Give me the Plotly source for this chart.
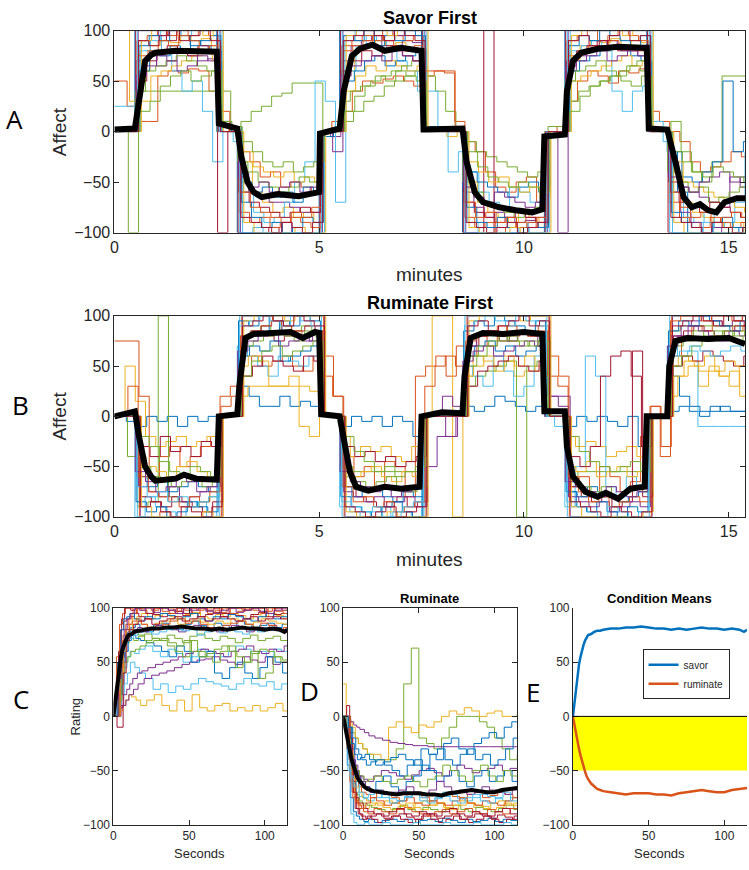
import numpy as np
import plotly.graph_objects as go

# MATLAB default colour order
COLORS = ["#0072BD", "#D95319", "#EDB120", "#7E2F8E", "#77AC30", "#4DBEEE", "#A2142F"]

# ---------------- Panel A: Savor First (ratings every 0.25 min) ----------------
# block order: N0(2) S(8) N(2) R(8) N(2) S(8) N(4) R(8) N(2) S(8) N(2) R(8) end(1)
A1 = [0,0, 100,100,100,100,100,100,100,100, 0,0, -100,-100,-100,-100,-100,-100,-100,-100, 0,0, 100,100,100,100,100,100,100,100, 0,0,0,0, -100,-100,-100,-100,-100,-100,-100,-100, -5,0, 100,100,100,100,100,100,100,100, 0,0, -20,-60,-100,-100,-100,-100,-95,-100, -100]
A2 = [50,25, 10,10,55,60,58,62,60,40, 10,0, -20,-30,-45,-40,-55,-50,-55,-60, 0,10, 20,40,50,48,52,55,50,45, 55,60,58,10, -10,-20,-40,-55,-60,-50,-45,-70, -5,5, 30,50,60,55,48,60,58,62, 20,10, 0,-10,-30,-40,-35,-30,-20,-25, -20]
A3 = [100,30, 60,85,90,88,95,90,92,85, 5,0, -30,-60,-70,-80,-75,-85,-80,-90, 0,0, 60,80,85,90,85,88,80,82, 0,0,-5,0, -50,-70,-80,-85,-90,-80,-85,-90, 0,0, 70,85,90,88,92,85,90,88, 0,0, -40,-70,-80,-85,-90,-95,-90,-100, -100]
A4 = [0,0, 70,75,65,70,80,75,70,72, 0,0, -40,-60,-65,-70,-70,-75,-80,-80, 0,-5, 70,85,90,95,80,85,90,88, 0,0,0,0, -60,-75,-85,-80,-85,-90,-88,-85, 0,0, 60,75,80,85,90,85,80,75, 0,0, -30,-55,-60,-65,-70,-75,-45,-55, -60]
A5 = [0,-100, 40,40,40,40,40,40,40,40, 40,0, 10,20,25,35,38,48,48,48, 0,0, 10,20,30,35,45,50,55,60, 55,40,20,0, -10,-20,-25,-30,-35,-40,-45,-40, 5,5, 30,40,45,50,55,60,65,60, 0,0, 10,-20,-40,-50,-30,55,55,55, 50]
A6 = [25,25, 90,95,80,60,40,50,20,-30, 0,-10, -60,-80,-90,-85,-70,-50,-30,50, 30,-70, 60,85,95,90,80,70,60,40, 40,0,-40,-20, -40,-60,-70,-75,-55,-60,-70,-55, 0,0, 80,85,90,80,40,20,40,45, 10,-10, -60,-85,-90,-80,-95,-90,-70,-20, -20]
A7 = [0,0, 100,100,100,90,100,100,100,100, -100,0, -100,-100,-100,-95,-100,-100,-100,-100, 0,0, 100,100,100,100,100,100,100,100, 0,0,0,0, -100,-100,100,-100,-100,-100,-100,-100, 0,0, 100,100,100,100,100,100,100,100, 0,0, -100,-100,-100,-100,-100,-100,-100,-100, -100]
A8 = [0,0, 60,80,75,85,80,90,85,80, 0,5, -50,-60,-55,-65,-60,-70,-55,-60, 0,0, 50,60,70,75,65,70,75,80, 5,0,0,0, -40,-50,-55,-60,-65,-55,-50,-60, -5,0, 60,70,75,80,85,80,75,70, 0,0, -20,-45,-50,-40,-30,50,-20,-10, 0]
A9 = [0,0, 90,95,100,95,100,95,100,95, 5,0, -80,-90,-85,-95,-90,-85,-90,-95, 0,0, 85,90,95,90,100,95,90,95, 0,0,0,0, -85,-95,-90,-100,-95,-90,-85,-95, 0,0, 90,95,100,90,95,100,95,90, 0,0, -70,-85,-90,-95,-85,-90,-95,-90, -90]
A10 = [0,0, 30,55,60,65,70,75,80,70, 0,0, -20,-35,-40,-45,-40,-50,-45,-50, 0,0, 40,55,65,60,70,65,60,65, 0,0,0,0, -30,-40,-50,-45,-55,-60,-55,-65, 0,0, 50,55,60,65,70,75,65,70, 0,0, -30,-50,-55,-60,-65,-70,-75,-80, -85]
A11 = [0,0, 100,100,95,100,100,100,100,100, 0,0, -100,-100,-100,-100,-90,-100,-100,-100, 0,-20, 100,100,100,100,100,95,100,100, 0,0,0,0, -100,-100,-100,-100,-100,-100,-100,-100, 0,-100, 100,100,100,100,100,100,100,100, 0,0, -60,-80,-90,-100,-95,-100,-100,-100, -100]
A12 = [0,0, 40,60,65,70,75,70,65,60, 0,0, -30,-40,-50,-55,-60,-55,-45,-50, 0,0, 30,40,45,50,55,60,65,70, 0,0,0,0, -50,-60,-70,-75,-80,-85,-80,-75, 0,0, 50,60,65,70,60,55,65,70, 0,0, -40,-50,-60,-55,-70,-65,-60,-55, -50]
A13 = [0,0, 80,90,100,100,95,100,100,100, 0,0, -100,-95,-100,-100,-100,-100,-100,-100, 0,0, 90,100,100,100,100,100,100,100, 0,0,0,0, -90,-100,-100,-100,-100,-95,-100,-100, 0,0, 100,100,100,100,100,100,100,100, 0,0, -100,-100,-100,-90,-100,-100,-100,-100, -100]
A14 = [0,0, 50,70,80,85,80,75,85,80, 0,0, -60,-70,-75,-80,-85,-80,-75,-80, 0,0, 60,70,80,75,85,80,75,70, 0,0,0,0, -70,-80,-85,-90,-85,-80,-85,-90, 0,0, 70,80,85,90,85,80,85,80, 0,0, -50,-70,-75,-80,-70,-75,-80,-85, -85]
A15 = [0,0, 85,95,90,100,95,85,90,95, 10,0, -70,-85,-95,-90,-100,-95,-85,-90, -5,0, 95,90,100,85,95,90,100,95, 0,5,0,0, -75,-90,-95,-85,-95,-100,-90,-95, 0,0, 85,95,90,100,95,90,85,95, 0,0, -80,-90,-95,-100,-90,-85,-95,-100, -100]
A16 = [0,0, 75,80,90,85,95,90,80,85, 20,0, -60,-75,-80,-85,-90,-80,-85,-75, 0,0, 80,85,90,95,90,85,80,85, 60,60,60,0, -70,-85,-80,-90,-85,-95,-90,-85, 0,0, 75,80,85,80,90,85,80,85, 0,0, -60,-75,-85,-80,-90,-85,-80,-85, -85]
A17 = [0,0, 90,100,100,100,100,100,95,100, 0,0, -90,-100,-100,-100,-100,-95,-100,-100, 0,0, 95,100,100,100,95,100,100,100, 0,0,0,0, -95,-100,-100,-100,-95,-100,-100,-100, 0,0, 95,100,100,100,100,95,100,100, 0,0, -90,-100,-100,-100,-100,-100,-100,-95, -95]
A18 = [0,0, 55,65,75,70,60,65,75,70, 0,0, -45,-55,-50,-60,-55,-50,-60,-55, 0,0, 55,65,70,75,70,80,75,70, 0,0,0,0, -55,-65,-70,-60,-65,-70,-75,-70, 0,0, 65,70,75,80,70,75,80,75, 0,0, -45,-55,-60,-50,-45,-40,-50,-45, -45]
A19 = [0,0, 20,30,45,55,60,50,55,60, 10,5, -10,-20,-30,-35,-30,-40,-35,-30, 0,0, 20,35,45,55,50,60,55,50, 0,0,0,0, -20,-35,-45,-50,-55,-50,-55,-60, 0,0, 20,35,45,50,55,50,45,55, 0,0, -20,-30,-40,-45,-35,-40,-45,-50, -50]
A20 = [0,0, 100,100,100,100,100,100,100,100, 0,0, -100,-100,-100,-100,-100,-100,-100,-100, 0,0, 100,100,100,100,100,100,100,100, 0,0,0,0, -100,-100,-100,-100,-100,-100,-100,-100, 0,0, 100,100,100,100,100,100,100,100, 0,0, -100,-100,-100,-100,-100,-100,-100,-100, -100]
A21 = [0,0, 90,85,95,100,90,95,100,90, 0,0, -85,-90,-95,-100,-90,-95,-100,-90, 0,0, 90,95,100,95,90,100,95,90, 0,0,0,0, -90,-95,-100,-95,-90,-100,-95,-90, 0,0, 90,95,85,90,95,100,90,95, 0,0, -85,-90,-95,-100,-90,-95,-100,-95, -95]
SAVOR_FIRST = [A1, A2, A3, A4, A5, A6, A7, A8, A9, A10, A11, A12, A13, A14, A15, A16, A17, A18, A19, A20, A21]
# response lag of each rater (minutes) - raters update their slider at their own moments
LAG_A = [0.00, 0.06, 0.12, 0.03, 0.09, 0.15, 0.02, 0.11, 0.05, 0.14, 0.08, 0.01, 0.13, 0.04, 0.10, 0.07, 0.16, 0.03, 0.12, 0.06, 0.09]

MEAN_A_T = [0, 0.5, 0.6, 0.75, 0.9, 1.0, 1.5, 2.0, 2.5, 2.55, 2.8, 3.0, 3.1, 3.25, 3.4, 3.6, 4.0, 4.5, 5.0, 5.02,
            5.5, 5.6, 5.8, 6.0, 6.3, 6.6, 7.0, 7.5, 7.55, 8.0, 8.5, 8.6, 8.8, 9.0, 9.4, 9.8, 10.2, 10.45, 10.5,
            11.0, 11.05, 11.2, 11.4, 11.8, 12.3, 12.9, 13.0, 13.05, 13.5, 13.7, 13.9, 14.1, 14.3, 14.5, 14.7, 14.9, 15.2, 15.4]
MEAN_A_V = [2, 3, 30, 70, 76, 78, 80, 80, 79, 8, 5, 3, -25, -50, -60, -65, -62, -64, -60, -2,
            3, 40, 75, 82, 86, 80, 83, 80, 2, 3, 3, -30, -60, -70, -75, -78, -80, -77, -5,
            -3, 40, 70, 78, 82, 84, 83, 83, 3, 2, -30, -65, -75, -72, -78, -80, -70, -66, -66]

# ---------------- Panel B: Ruminate First ----------------
# block order: N0(2) R(8) N(2) S(8) N(2) R(8) N(4) S(8) N(2) R(8) N(2) S(8) end(1)
B1 = [0,-5, -10,0,-5,0,-10,0,-5,0, 0,0, 30,20,10,10,20,10,15,10, 0,0, -10,0,-5,0,-10,0,-5,-20, 0,0,0,0, 10,5,10,20,15,10,5,10, 0,0, -10,0,-5,0,-5,-10,0,-30, 0,0, 5,10,5,0,5,10,5,5, 5]
B2 = [75,75, 20,-60,-40,-30,-50,-40,-30,-20, 10,20, 40,60,50,55,60,50,45,60, 60,20, -40,-60,-50,-70,-45,-50,-80,40, 50,60,40,70, 60,80,70,90,75,85,80,90, 60,40, -70,-60,-80,-50,-60,-75,-65,-20, 10,-30, 60,80,90,85,95,90,85,90, 90]
B3 = [0,50, 15,-20,-30,-25,-20,-30,-25,-20, 0,0, 20,30,30,30,30,40,-10,-20, 0,0, -20,-40,-30,-35,-30,-40,-45,-30, 0,100,100,-100, 40,60,55,50,60,40,45,50, 0,0, -20,-30,-25,-30,-40,-35,-30,-40, 0,0, 20,40,50,30,45,40,30,50, 50]
B4 = [0,0, -100,-100,-100,-100,-100,-100,-100,-100, 0,0, 100,100,100,100,100,100,100,100, 0,0, -100,-100,-100,-100,-100,-100,-100,-100, -50,-20,-20,0, 100,100,100,100,100,100,100,100, 20,20, -100,-100,-100,-100,-100,-100,-100,-100, 0,0, 100,100,100,100,100,100,100,100, 100]
B5 = [0,-40, -90,-85,100,-80,-85,-90,-85,-80, 0,0, 80,85,90,85,90,85,90,85, 0,0, -50,-55,-55,-55,-55,-55,-55,-55, 0,0,0,0, 30,40,45,50,55,-100,50,55, 0,0, -60,-55,-55,-55,-55,-55,-55,-55, 0,0, 85,90,90,90,90,90,90,90, 90]
B6 = [0,0, -100,-80,-90,-95,-100,-90,-85,-100, 0,0, 70,60,50,40,60,55,50,60, 0,0, -90,-95,-100,-95,-90,-100,-95,-100, 0,0,0,0, 50,40,30,60,45,20,30,60, 0,-10, -90,-50,60,40,-70,-80,-60,-70, 0,0, 70,60,65,-10,-10,-10,-10,-10, -10]
B7 = [0,0, -80,-85,-90,-80,-85,-90,-95,-85, 0,0, 80,85,80,75,80,85,90,85, 0,0, -70,-80,-85,-90,-85,-80,-90,-85, 0,0,0,0, 70,80,85,75,80,85,80,75, 0,0, -70,-80,-85,-80,-90,-85,65,-80, 0,0, 80,85,90,85,80,85,90,85, 85]
B8 = [0,0, -60,-70,-65,-75,-70,-65,-70,-75, 0,0, 60,70,65,75,55,60,65,70, 0,0, -70,-80,-75,-70,-80,-85,-75,-80, 0,0,0,0, 60,70,75,65,70,60,65,70, 0,0, -75,-80,-70,-75,-80,-85,-80,-75, 0,0, 40,20,10,5,10,5,5,5, 5]
B9 = [0,0, -100,-100,-95,-100,-100,-100,-100,-100, 0,0, 100,100,100,95,100,100,100,100, 0,0, -100,-100,-100,-100,-100,-100,-100,-100, 0,0,0,0, 100,100,100,100,100,100,100,100, 0,0, -100,-100,-100,-100,-100,-100,-100,-100, 0,0, 100,100,100,100,100,100,100,100, 100]
B10 = [0,0, -40,-50,-55,-60,-50,-45,-55,-60, 0,0, 50,60,55,30,30,30,30,25, 0,0, -50,-60,-55,-50,-60,-65,-55,-60, 0,0,0,0, 40,50,60,45,55,50,60,45, 0,0, -50,-55,-45,-60,-55,-50,-60,-55, 0,0, 50,60,55,45,50,40,45,20, 20]
B11 = [0,0, -70,-75,-80,-70,-85,-80,-75,-70, 0,0, 80,85,90,95,85,80,75,85, 0,0, -75,-80,-85,-80,-90,-85,-80,-90, 0,0,-20,0, 70,80,85,80,75,85,80,70, 20,10, -80,-85,-90,-85,-95,-90,-85,-90, 0,0, 80,90,95,100,95,90,95,100, 100]
B12 = [0,0, -50,-60,-65,-70,-65,-60,-70,-65, 0,0, 70,75,80,85,80,75,85,80, 0,0, -60,-65,-70,-65,-60,-70,-75,-70, 0,0,0,0, 60,70,75,80,75,70,75,80, 0,0, -65,-70,-75,-70,-80,-75,-70,-75, 0,0, 70,75,85,80,85,80,85,80, 80]
B13 = [0,0, -100,-100,-100,-100,-100,-100,-100,-100, 0,0, 100,100,100,100,100,100,100,100, 0,0, -100,-100,-100,-100,-100,-100,-100,-100, 0,0,0,0, 100,100,100,100,100,100,100,100, 0,0, -100,-100,-100,-100,-100,-100,-100,-100, 0,0, 100,100,100,100,100,100,100,100, 100]
B14 = [0,0, -30,-40,-20,-35,-30,-40,-25,-30, 0,0, 40,50,60,55,50,45,60,55, 0,0, -30,-40,-35,-45,-40,-50,-45,-40, 0,0,0,0, 30,45,50,55,60,50,45,55, 0,0, -40,-50,-30,40,60,65,40,-30, 0,0, 50,60,55,65,60,55,50,60, 60]
B15 = [0,0, -85,-95,-90,-100,-95,-85,-90,-95, 0,0, 95,90,100,85,95,90,100,95, 0,0, -80,-90,-95,-100,-90,-85,-95,-100, 0,5,0,0, 85,95,90,100,95,90,85,95, 0,0, -75,-90,-95,-85,-95,-100,-90,-95, 0,0, 85,95,90,100,95,90,85,95, 95]
B16 = [0,30, -60,-75,-80,-85,-90,-80,-85,-75, 20,30, 80,85,90,95,90,85,80,85, 40,20, -70,-85,-80,-90,-85,-95,-90,-85, 30,50,60,50, 75,80,85,80,90,85,80,85, 40,30, -60,-75,-85,-80,-90,-85,-80,-85, 10,-40, 95,100,100,95,100,100,95,100, 100]
B17 = [0,0, -90,-100,-100,-100,-100,-100,-95,-100, 0,0, 95,100,100,100,95,100,100,100, 0,0, -95,-100,-100,-100,-95,-100,-100,-100, 0,0,0,0, 95,100,100,100,100,95,100,100, 0,0, -90,-100,-100,-100,-100,-100,-100,-95, 0,0, 40,55,50,60,45,55,50,45, 45]
B18 = [0,0, -55,-65,-75,-70,-60,-65,-75,-70, 0,0, 65,75,80,85,70,75,80,75, 0,0, -55,-65,-70,-75,-70,-80,-75,-70, 0,0,20,10, 55,65,70,60,65,70,75,70, 0,0, -65,-70,-75,-80,-70,-75,-80,-75, 0,0, 70,80,90,85,80,75,85,80, 80]
B19 = [0,0, -20,-30,-45,-55,-60,-50,-55,-60, 0,0, 40,55,65,70,60,65,70,75, 0,0, -20,-35,-45,-55,-50,-60,-55,-50, 0,0,0,0, 50,60,70,75,80,75,70,75, 0,0, -20,-35,-45,-50,-55,-50,-45,-55, 0,0, 50,60,70,75,80,85,80,75, 75]
B20 = [0,0, -70,-80,-75,-85,-80,-90,-85,-80, 0,0, 90,95,100,95,90,100,95,90, 0,0, -85,-90,-95,-90,-100,-95,-90,-85, 0,0,0,0, 90,95,100,95,90,100,95,90, 0,0, -85,-90,-95,-100,-90,-95,-100,-95, 0,0, 60,65,70,65,60,65,70,65, 65]
B21 = [0,0, -90,-85,-95,-100,-90,-95,-100,-90, 0,0, 90,95,100,95,90,100,95,90, 0,0, -90,-95,-100,-95,-90,-100,-95,-90, 0,0,0,0, 90,95,85,90,95,100,90,95, 0,0, -85,-90,-95,-100,-90,-95,-100,-95, 0,0, 90,95,100,95,90,100,95,90, 90]
RUMINATE_FIRST = [B1, B2, B3, B4, B5, B6, B7, B8, B9, B10, B11, B12, B13, B14, B15, B16, B17, B18, B19, B20, B21]
LAG_B = [0.04, 0.10, 0.01, 0.13, 0.07, 0.00, 0.15, 0.05, 0.11, 0.02, 0.09, 0.14, 0.06, 0.12, 0.03, 0.08, 0.16, 0.01, 0.10, 0.05, 0.13]

MEAN_B_T = [0, 0.5, 0.6, 0.75, 0.9, 1.0, 1.5, 1.7, 2.0, 2.5, 2.55, 3.0, 3.05, 3.2, 3.4, 3.8, 4.3, 4.6, 4.9, 5.0, 5.05,
            5.5, 5.6, 5.75, 5.9, 6.2, 6.6, 7.0, 7.45, 7.5, 8.0, 8.5, 8.55, 8.7, 9.0, 9.5, 10.0, 10.45, 10.5,
            11.0, 11.05, 11.2, 11.5, 11.8, 12.0, 12.3, 12.6, 12.95, 13.0, 13.5, 13.55, 13.7, 14.0, 14.5, 15.0, 15.4]
MEAN_B_V = [0, 5, -20, -50, -60, -64, -62, -58, -62, -63, 0, 2, 30, 78, 82, 83, 84, 78, 84, 83, 2,
            0, -20, -55, -70, -74, -70, -72, -70, 0, 4, 3, 40, 78, 83, 82, 84, 82, 5,
            5, -30, -60, -75, -80, -76, -82, -72, -70, 0, 0, 50, 75, 78, 77, 78, 72]

# ---------------- Panels C / D: trials in seconds ----------------
SECONDS = [0, 2, 4, 6, 8, 10, 13, 16, 20, 25, 30, 35, 40, 45, 50, 55, 60, 65, 70, 75, 80, 85, 90, 95, 100, 105, 110, 115]

SAVOR_TRIALS = [
    [0,55,85,95,100,100,95,100,100,98,100,100,97,100,100,98,100,100,96,100,100,98,100,100,97,100,100,98],
    [0,20,55,70,78,82,85,80,78,84,86,82,80,85,88,84,80,86,84,82,88,85,80,84,86,82,85,84],
    [0,25,45,60,68,72,70,74,76,72,70,75,72,68,74,76,72,70,74,72,68,72,75,70,72,74,70,72],
    [0,40,70,80,85,90,92,95,90,93,95,92,90,94,96,92,90,94,92,95,93,90,94,92,95,93,90,94],
    [0,10,30,45,55,60,58,62,65,60,55,62,58,50,55,62,60,58,55,60,65,62,58,60,55,62,60,58],
    [0,30,60,72,76,80,82,78,80,84,82,80,78,82,84,80,82,78,80,84,82,78,80,82,84,80,78,82],
    [0,50,80,88,90,92,95,92,90,94,92,95,97,93,95,92,94,96,92,95,93,90,94,96,92,94,95,93],
    [0,5,10,15,20,18,15,10,15,20,10,5,15,5,20,8,5,10,12,5,8,5,10,5,8,12,5,8],
    [0,10,20,30,40,50,45,40,35,25,30,22,28,25,30,35,32,30,28,25,30,35,30,28,32,25,30,35],
    [0,5,8,10,15,20,25,30,35,38,40,42,45,48,50,52,53,55,52,50,48,55,52,50,55,48,50,52],
    [0,10,20,25,30,35,40,42,45,48,50,52,55,58,60,62,60,58,55,60,62,65,60,58,62,60,65,62],
    [0,20,50,60,70,75,72,70,68,65,60,55,65,60,50,55,60,40,35,45,50,40,35,45,55,50,40,45],
    [0,30,60,70,75,80,78,75,70,72,70,65,60,55,70,60,55,50,60,65,45,50,60,35,40,55,50,60],
    [0,40,70,85,90,95,100,98,95,100,97,95,100,98,95,100,95,98,100,95,97,100,98,95,100,97,95,98],
    [0,60,90,100,100,98,100,100,95,100,100,98,100,95,100,100,98,100,95,100,100,98,100,100,95,100,98,100],
    [0,50,80,90,92,95,90,88,92,90,95,93,90,92,95,90,88,92,90,94,92,90,88,92,95,90,92,90],
    [0,30,60,75,80,85,88,85,82,86,88,90,85,88,90,87,85,88,86,90,88,85,87,90,88,86,85,88],
    [0,25,50,65,70,72,75,78,80,76,78,80,82,79,80,75,78,80,77,80,78,76,80,78,82,80,78,80],
    [0,15,40,50,55,60,62,65,68,70,72,68,65,70,60,55,58,62,65,60,55,50,58,62,60,55,52,58],
    [0,45,75,80,85,88,90,85,80,82,85,88,90,86,88,85,82,80,84,86,88,85,82,86,84,80,82,85],
    [0,35,65,80,90,95,100,98,100,96,100,98,95,100,98,100,97,95,98,100,96,98,100,97,95,98,100,96],
    [0,-10,-10,40,70,80,85,88,90,85,88,90,92,88,90,92,88,90,92,90,88,90,92,88,90,92,90,88],
]
SAVOR_TRIAL_COLORS = ["#D95319", "#0072BD", "#77AC30", "#EDB120", "#4DBEEE", "#7E2F8E", "#A2142F",
                      "#EDB120", "#4DBEEE", "#7E2F8E", "#7E2F8E", "#0072BD", "#77AC30", "#D95319",
                      "#A2142F", "#0072BD", "#EDB120", "#4DBEEE", "#77AC30", "#D95319", "#7E2F8E", "#A2142F"]
LAG_C = [0.0, 1.5, 0.5, 2.5, 1.0, 3.0, 0.8, 2.0, 1.2, 0.3, 2.8, 1.8, 0.6, 2.2, 1.4, 0.9, 2.6, 0.2, 1.6, 2.4, 1.1, 0.4]

RUMINATE_TRIALS = [
    [0,-45,-75,-88,-92,-95,-97,-95,-98,-96,-95,-97,-95,-98,-96,-95,-97,-94,-96,-98,-95,-97,-96,-94,-97,-95,-96,-98],
    [0,-20,-45,-60,-65,-70,-72,-75,-70,-72,-75,-78,-72,-70,-75,-78,-72,-70,-74,-76,-72,-70,-75,-73,-70,-72,-75,-72],
    [0,-30,-55,-70,-80,-82,-85,-82,-80,-84,-86,-83,-80,-84,-86,-82,-80,-84,-86,-82,-80,-84,-83,-86,-84,-80,-82,-85],
    [0,-10,-25,-40,-50,-55,-58,-60,-55,-50,-52,-55,-58,-54,-50,-48,-52,-55,-50,-45,-48,-52,-50,-48,-45,-50,-48,-46],
    [0,-35,-60,-72,-78,-80,-82,-84,-86,-88,-85,-82,-86,-88,-84,-86,-88,-85,-82,-86,-88,-84,-86,-88,-85,-82,-86,-88],
    [0,-40,-70,-85,-90,-92,-94,-92,-90,-94,-92,-90,-93,-95,-92,-90,-94,-92,-90,-95,-93,-90,-92,-94,-91,-93,-95,-92],
    [0,-25,-50,-62,-70,-74,-76,-78,-75,-72,-76,-78,-74,-72,-75,-78,-76,-74,-72,-76,-78,-75,-72,-74,-76,-78,-75,-72],
    [0,-5,-10,-15,-20,-25,-30,-35,-40,-40,-40,-30,30,63,-20,-25,-30,-20,-10,0,0,0,-5,-10,-20,-30,-40,-35],
    [30,0,-5,-10,-20,-25,-30,-35,-35,-40,-10,-5,-10,-15,-8,-10,-5,0,5,2,8,5,0,3,5,0,0,2],
    [0,-3,-5,-8,-10,-12,-15,-18,-20,-22,-24,-25,-26,-27,-27,-28,-28,-28,-28,-28,-28,-28,-28,-28,-28,-28,-28,-28],
    [0,-10,-20,-30,-35,-40,-45,-42,-40,-45,-50,-55,-45,-40,-50,-35,-30,-40,-45,-35,-30,-40,-35,-45,-40,-30,-20,-25],
    [0,-20,-40,-50,-55,-60,-65,-70,-60,-55,-65,-70,-60,-55,-45,-50,-60,-55,-50,-60,-65,-55,-50,-60,-55,-50,-60,-55],
    [0,-30,-60,-75,-80,-85,-88,-90,-85,-88,-90,-86,-84,-88,-90,-92,-88,-86,-90,-88,-85,-88,-90,-86,-88,-90,-85,-88],
    [0,-40,-70,-85,-90,-95,-92,-95,-98,-95,-92,-95,-98,-95,-90,-95,-98,-95,-92,-95,-98,-95,-92,-95,-98,-95,-92,-95],
    [0,-50,-90,-98,-100,-100,-98,-100,-100,-98,-100,-100,-100,-98,-100,-100,-100,-98,-100,-100,-100,-98,-100,-100,-100,-98,-100,-100],
    [0,-20,-35,-45,-50,-55,-60,-58,-55,-60,-62,-58,-55,-60,-65,-58,-55,-45,-50,-55,-60,-50,-45,-55,-60,-50,-55,-60],
    [0,-25,-50,-65,-70,-75,-78,-80,-82,-78,-80,-82,-85,-80,-78,-82,-80,-85,-82,-78,-80,-82,-85,-80,-78,-82,-80,-78],
    [0,-15,-30,-45,-55,-60,-65,-70,-68,-72,-70,-68,-65,-70,-72,-68,-60,-65,-70,-68,-72,-70,-65,-68,-70,-72,-68,-65],
    [0,10,-20,-60,-75,-80,-85,-88,-90,-92,-88,-85,-90,-92,-88,-90,-92,-88,-85,-90,-92,-88,-90,-92,-88,-85,-90,-92],
    [0,-35,-65,-78,-82,-85,-80,-75,-78,-82,-80,-78,-75,-80,-82,-78,-80,-82,-78,-75,-80,-82,-78,-80,-82,-78,-75,-80],
    [0,-10,-25,-35,-40,-38,-35,-40,-45,-42,-38,-35,-40,-45,-30,-35,-40,-25,-20,-30,-35,-25,-20,-15,-20,-10,-5,0],
    [0,-30,-55,-65,-60,-70,-75,-72,-68,-75,-80,-78,-75,-70,-78,-80,-75,-70,-78,-80,-75,-72,-78,-80,-75,-70,-78,-80],
]
RUMINATE_TRIAL_COLORS = ["#0072BD", "#D95319", "#EDB120", "#7E2F8E", "#77AC30", "#A2142F", "#4DBEEE",
                         "#77AC30", "#EDB120", "#7E2F8E", "#0072BD", "#0072BD", "#D95319", "#A2142F",
                         "#4DBEEE", "#77AC30", "#EDB120", "#7E2F8E", "#A2142F", "#D95319", "#0072BD", "#4DBEEE"]
LAG_D = [0.7, 2.1, 1.3, 0.2, 2.7, 1.9, 0.5, 0.0, 0.0, 1.0, 2.3, 1.6, 0.4, 2.9, 1.1, 0.8, 2.5, 1.7, 0.3, 2.0, 1.4, 0.6]

SAVOR_MEAN_T = [0,1,2,3,4,5,6,7,8,9,10,12,14,16,18,20,25,30,35,40,45,50,55,60,65,70,75,80,85,90,95,100,105,110,113,115]
SAVOR_MEAN_V = [0,12,25,37,48,55,62,66,70,73,75,76,78,79,79,80,81,81,82,82,83,82,81,81,80,81,80,81,82,81,81,80,81,80,78,80]
RUM_MEAN_T = [0,1,2,3,4,5,6,7,8,9,10,12,14,16,18,20,25,30,35,40,45,50,55,60,65,70,75,80,85,90,95,100,105,110,115]
RUM_MEAN_V = [0,-8,-15,-22,-30,-36,-42,-47,-51,-55,-58,-62,-65,-67,-68,-69,-70,-71,-72,-71,-71,-71,-72,-72,-73,-71,-70,-69,-68,-69,-70,-70,-68,-67,-66]

MINUTE_TICKS = [0, 5, 10, 15]
SECOND_TICKS = [0, 50, 100]
AFFECT_TICKS = [-100, -50, 0, 50, 100]
BAND_LOW, BAND_HIGH = -50, 0

MINUTES = np.arange(63) * 0.25

W, H = 749, 870
def px(x): return x / W
def py(y): return 1 - y / H

fig = go.Figure()

def add_lines(grid, ys_list, lags, colors, xa, ya, width=1):
    grid = np.asarray(grid, dtype=float)
    for i, ys in enumerate(ys_list):
        n = min(len(ys), len(grid))
        xs = grid[:n].copy()
        xs[1:] = xs[1:] + lags[i % len(lags)]
        fig.add_trace(go.Scatter(x=xs, y=ys[:n], mode="lines",
                                 line=dict(color=colors[i % len(colors)], width=width, shape="hv"),
                                 xaxis=xa, yaxis=ya, showlegend=False, hoverinfo="skip"))

add_lines(MINUTES, SAVOR_FIRST, LAG_A, COLORS, "x", "y")
fig.add_trace(go.Scatter(x=MEAN_A_T, y=MEAN_A_V, mode="lines", line=dict(color="black", width=6),
                         xaxis="x", yaxis="y", showlegend=False))
add_lines(MINUTES, RUMINATE_FIRST, LAG_B, COLORS, "x2", "y2")
fig.add_trace(go.Scatter(x=MEAN_B_T, y=MEAN_B_V, mode="lines", line=dict(color="black", width=6),
                         xaxis="x2", yaxis="y2", showlegend=False))
add_lines(SECONDS, SAVOR_TRIALS, LAG_C, SAVOR_TRIAL_COLORS, "x3", "y3")
fig.add_trace(go.Scatter(x=SAVOR_MEAN_T, y=SAVOR_MEAN_V, mode="lines", line=dict(color="black", width=4),
                         xaxis="x3", yaxis="y3", showlegend=False))
add_lines(SECONDS, RUMINATE_TRIALS, LAG_D, RUMINATE_TRIAL_COLORS, "x4", "y4")
fig.add_trace(go.Scatter(x=RUM_MEAN_T, y=RUM_MEAN_V, mode="lines", line=dict(color="black", width=4),
                         xaxis="x4", yaxis="y4", showlegend=False))
fig.add_trace(go.Scatter(x=SAVOR_MEAN_T, y=SAVOR_MEAN_V, mode="lines", name="savor",
                         line=dict(color="#0072BD", width=2.5), xaxis="x5", yaxis="y5"))
fig.add_trace(go.Scatter(x=RUM_MEAN_T, y=RUM_MEAN_V, mode="lines", name="ruminate",
                         line=dict(color="#D95319", width=2.5), xaxis="x5", yaxis="y5"))

AX = "#262626"
def xax(dom, rng, ticks, anchor, size, mirror="ticks"):
    return dict(domain=dom, range=rng, tickvals=ticks, anchor=anchor, showline=True, linecolor=AX, linewidth=1,
                mirror=mirror, ticks="inside", ticklen=5, tickcolor=AX, showgrid=False, zeroline=False,
                tickfont=dict(size=size, color=AX, family="Liberation Sans"))
def yax(dom, ticks, anchor, size, mirror="ticks"):
    return dict(domain=dom, range=[-100, 100], tickvals=ticks, anchor=anchor, showline=True, linecolor=AX, linewidth=1,
                mirror=mirror, ticks="inside", ticklen=5, tickcolor=AX, showgrid=False, zeroline=False,
                tickfont=dict(size=size, color=AX, family="Liberation Sans"))

fig.update_layout(
    width=W, height=H, margin=dict(l=0, r=0, t=0, b=0),
    paper_bgcolor="white", plot_bgcolor="white",
    xaxis=xax([px(111), px(745)], [0, 15.4], MINUTE_TICKS, "y", 16),
    yaxis=yax([py(229), py(23)], AFFECT_TICKS, "x", 16),
    xaxis2=xax([px(111), px(745)], [0, 15.4], MINUTE_TICKS, "y2", 16),
    yaxis2=yax([py(519), py(314)], AFFECT_TICKS, "x2", 16),
    xaxis3=xax([px(110), px(285)], [0, 115], SECOND_TICKS, "y3", 12),
    yaxis3=yax([py(833), py(612)], AFFECT_TICKS, "x3", 12),
    xaxis4=xax([px(341), px(516)], [0, 115], SECOND_TICKS, "y4", 12),
    yaxis4=yax([py(833), py(612)], AFFECT_TICKS, "x4", 12),
    xaxis5=xax([px(572), px(747)], [0, 115], SECOND_TICKS, "y5", 12, mirror=False),
    yaxis5=yax([py(833), py(612)], AFFECT_TICKS, "x5", 12, mirror=False),
    legend=dict(x=px(642), y=py(654), xanchor="left", yanchor="top", bgcolor="white",
                bordercolor=AX, borderwidth=1, font=dict(size=10, color=AX, family="Liberation Sans"),
                tracegroupgap=0, itemwidth=30),
)

fig.add_shape(type="rect", xref="x5 domain", yref="y5", x0=0, x1=1, y0=BAND_LOW, y1=BAND_HIGH,
              fillcolor="#FFFF00", line=dict(width=0), layer="below")
fig.add_shape(type="line", xref="x5 domain", yref="y5", x0=0, x1=1, y0=BAND_HIGH, y1=BAND_HIGH,
              line=dict(color="black", width=1))

def note(text, x, y, size, bold=False, angle=0, family="Liberation Sans", color=AX):
    fig.add_annotation(text=f"<b>{text}</b>" if bold else text, x=px(x), y=py(y), xref="paper", yref="paper",
                       showarrow=False, textangle=angle, xanchor="center", yanchor="middle",
                       font=dict(size=size, color=color, family=family))

note("Savor First", 428, 10, 18, bold=True, color="black")
note("minutes", 428, 272, 19)
note("Affect", 56, 126, 19, angle=-90)
note("Ruminate First", 428, 301, 18, bold=True, color="black")
note("minutes", 428, 563, 19)
note("Affect", 56, 416, 19, angle=-90)
note("Savor", 197, 602, 13, bold=True, color="black")
note("Ruminate", 428, 602, 13, bold=True, color="black")
note("Condition Means", 659, 602, 13, bold=True, color="black")
note("Seconds", 197, 862, 13)
note("Seconds", 428, 862, 13)
note("Seconds", 659, 862, 13)
note("Rating", 72, 723, 13, angle=-90)
for lab, x, y in [("A", 11, 113), ("B", 17, 405), ("C", 17, 705), ("D", 307, 697), ("E", 532, 698)]:
    note(lab, x, y, 26, family="Open Sans", color="black")

fig.write_html("out.html", config={"displayModeBar": False},
               post_script="document.body.style.margin='0';document.body.style.overflow='hidden';")
